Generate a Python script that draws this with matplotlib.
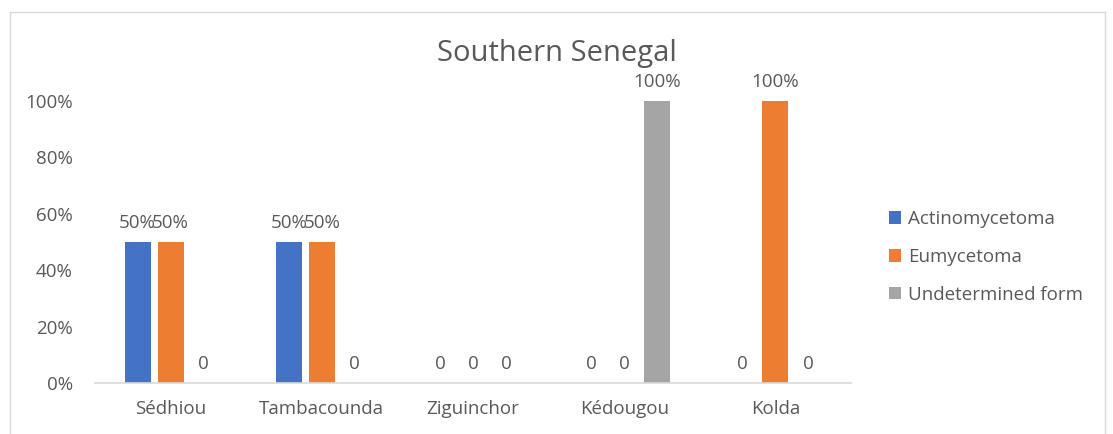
import numpy as np
import matplotlib.pyplot as plt
from matplotlib.lines import Line2D

plt.rcParams['font.family'] = ['Open Sans', 'DejaVu Sans']

regions = ['Sédhiou', 'Tambacounda', 'Ziguinchor', 'Kédougou', 'Kolda']
series_names = ['Actinomycetoma', 'Eumycetoma', 'Undetermined form']
actino = [0.5, 0.5, 0.0, 0.0, 0.0]
eumy = [0.5, 0.5, 0.0, 0.0, 1.0]
undet = [0.0, 0.0, 0.0, 1.0, 0.0]
colors = ['#4472C4', '#ED7D31', '#A5A5A5']
text_col = '#595959'

fig = plt.figure(figsize=(11.13, 4.34), dpi=100)
ax = fig.add_axes([95 / 1113, 1 - 383 / 434, (851 - 95) / 1113, (383 - 101) / 434])

x = np.arange(len(regions))
width = 26 / 151
offset = 33 / 151
for i, (vals, name) in enumerate(zip([actino, eumy, undet], series_names)):
    pos = x + (i - 1) * offset
    ax.bar(pos, vals, width, color=colors[i], label=name)
    for xp, v in zip(pos, vals):
        lab = '0' if v == 0 else f'{v:.0%}'
        ax.text(xp, v + 0.035, lab, ha='center', va='bottom', fontsize=13.5,
                color=text_col, clip_on=False)

ax.set_xlim(-0.5, 4.5)
ax.set_ylim(0, 1)
ticks = np.arange(0, 1.01, 0.2)
ax.set_yticks(ticks)
ax.set_yticklabels([f'{round(t * 100)}%' for t in ticks])
ax.set_xticks(x)
ax.set_xticklabels(regions)
ax.tick_params(axis='both', length=0, labelsize=13.5, colors=text_col)
ax.tick_params(axis='x', pad=12)
ax.tick_params(axis='y', pad=16)
for s in ['top', 'right', 'left']:
    ax.spines[s].set_visible(False)
ax.spines['bottom'].set_color('#D9D9D9')
ax.spines['bottom'].set_linewidth(1.2)

fig.text(557 / 1113, 1 - 53 / 434, 'Southern Senegal', ha='center', va='center',
         fontsize=21, color=text_col)

ax.legend(loc='center left', bbox_to_anchor=(872 / 1113, 1 - 257 / 434),
          bbox_transform=fig.transFigure, frameon=False, fontsize=13.5,
          labelcolor=text_col, handlelength=0.65, handleheight=0.65,
          handletextpad=0.35, labelspacing=1.05)

# chart border
bc = '#D9D9D9'
fig.add_artist(Line2D([10 / 1113, 10 / 1113], [0, 1 - 12 / 434], color=bc, lw=1))
fig.add_artist(Line2D([1105 / 1113, 1105 / 1113], [0, 1 - 12 / 434], color=bc, lw=1))
fig.add_artist(Line2D([10 / 1113, 1105 / 1113], [1 - 12 / 434, 1 - 12 / 434], color=bc, lw=1))

fig.savefig('out.png', dpi=100)
